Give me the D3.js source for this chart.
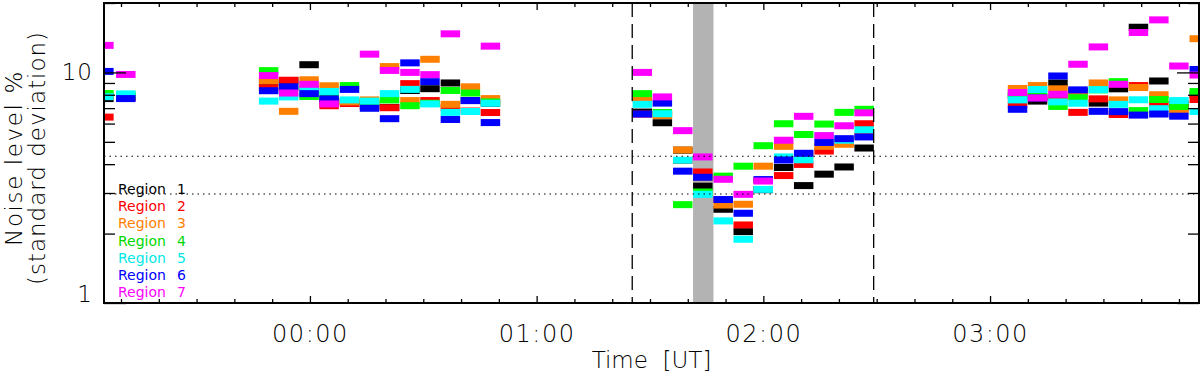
<!DOCTYPE html>
<html>
<head>
<meta charset="utf-8">
<script src="https://cdn.jsdelivr.net/npm/d3@7"></script>
<style>
  body { margin: 0; background: #fff; }
  svg { display: block; }
  text { font-family: "DejaVu Sans", sans-serif; font-weight: 200; }
</style>
</head>
<body>
<div id="chart"></div>
<script>
(function() {
    /********************************************
     * DATA (minutes from 00:00 UT, noise level %)
     ********************************************/
    const times = [-57.1, -51.3,
        -13.5, -8.2, -2.8, 2.5, 7.9, 13.2, 18.5, 23.9, 29.2, 34.6, 39.9, 45.2,
        85.4, 90.7, 96.1, 101.4, 106.8, 112.1, 117.4, 122.8, 128.1, 133.5, 138.8, 144.1,
        184.7, 190.0, 195.4, 200.7, 206.1, 211.4, 216.7, 222.1, 227.4, 232.8];

    const region1 = [7.7, 7.8,
        9.03, 9.2, 10.8, 7.6, 7.5, 7.3, 7.05, 8.35, 8.5, 9.0, 7.55, 7.35,
        6.73, 6.05, 4.6, 3.21, 2.55, 2.04, 3.1, 3.87, 3.23, 3.62, 3.89, 4.70,
        7.9, 7.51, 9.0, 8.3, 7.36, 8.49, 15.7, 9.18, 7.3, 8.0];
    const region2 = [6.4, 7.8,
        8.58, 9.25, 8.5, 7.17, 7.33, 7.1, 7.03, 8.94, 7.55, 7.03, 6.8, 6.70,
        6.6, 6.6, 4.15, 3.70, 2.8, 2.18, 3.4, 3.57, 3.99, 4.56, 5.0, 5.99,
        7.27, 7.8, 7.8, 6.71, 7.68, 6.57, 8.77, 7.25, 7.0, 7.63];
    const region3 = [7.9, 7.9,
        9.2, 6.78, 9.29, 8.75, 7.45, 7.6, 10.6, 7.55, 11.4, 7.27, 8.66, 7.7,
        7.63, 6.5, 4.61, 3.5, 2.66, 2.68, 3.92, 4.78, 4.4, 4.78, 4.88, 5.3,
        8.52, 8.77, 8.49, 8.0, 9.0, 7.6, 8.6, 8.0, 6.83, 14.0];
    const region4 = [8.1, 8.0,
        10.18, 8.6, 7.86, 8.0, 8.77, 7.4, 7.6, 7.17, 7.35, 8.35, 8.14, 7.45,
        8.09, 6.7, 2.67, 3.03, 3.55, 3.92, 4.81, 5.99, 5.38, 5.97, 6.71, 6.92,
        8.0, 8.2, 7.12, 7.77, 8.4, 9.12, 6.83, 7.63, 7.12, 8.26];
    const region5 = [7.85, 8.07,
        7.51, 7.83, 8.35, 8.27, 7.6, 7.51, 8.09, 8.44, 7.30, 6.71, 6.77, 7.35,
        7.27, 6.62, 4.16, 2.96, 2.27, 1.89, 3.11, 4.3, 4.18, 5.3, 5.08, 5.64,
        7.60, 8.43, 7.45, 7.35, 8.42, 7.27, 7.61, 6.96, 7.55, 6.77];
    const region6 = [10.1, 7.7,
        8.33, 8.66, 8.09, 7.68, 8.44, 6.99, 6.30, 11.0, 9.12, 6.25, 7.55, 6.06,
        6.60, 7.36, 3.73, 3.51, 2.81, 2.45, 3.43, 4.17, 4.46, 4.97, 5.16, 5.25,
        6.92, 7.75, 9.65, 8.4, 6.78, 6.76, 6.53, 6.60, 6.46, 10.3];
    const region7 = [13.1, 9.8,
        9.69, 8.14, 8.88, 7.30, null, 12.0, 10.2, 10.0, 9.78, 14.7, null, 13.0,
        10.0, 7.83, 5.59, 4.30, 3.44, 2.96, 3.38, 5.08, 6.45, 5.32, 5.87, 6.68,
        8.18, 7.75, 8.04, 10.85, 12.9, 8.88, 14.9, 16.9, 10.66, 9.74];

    const regionNames = ["Region 1", "Region 2", "Region 3", "Region 4", "Region 5", "Region 6", "Region 7"];
    const regionColors = ["#000000", "#ff0000", "#ff8000", "#00ff00", "#00ffff", "#0000ff", "#ff00ff"];
    const legendColors = ["#000000", "#ff0000", "#ff8000", "#00d800", "#00e8e8", "#0000ff", "#ff00ff"];
    const regionValues = [region1, region2, region3, region4, region5, region6, region7];

    const xMajorTicks = [0, 60, 120, 180];
    const xTickLabels = ["00:00", "01:00", "02:00", "03:00"];
    const yMajorTicks = [1, 10];
    const yMinorTicks = [2, 3, 4, 5, 6, 7, 8, 9, 20];

    const thresholds = [4.33, 2.97];     // dotted lines
    const eventLines = [85.3, 149.2];    // dashed lines
    const grayBand = [101.4, 106.8];
    const binMinutes = 5.15;

    /********************************************
     * SCALES
     ********************************************/
    const width = 1200, height = 377;
    const left = 104, right = 1199, top = 3, bottom = 303;

    const svg = d3.select("#chart").append("svg")
        .attr("width", width).attr("height", height);

    const x = d3.scaleLinear().domain([-54.5, 235.3]).range([left, right]);
    const y = d3.scaleLog().domain([1, 20]).range([bottom, top]);

    svg.append("clipPath").attr("id", "plot-clip")
        .append("rect").attr("x", left).attr("y", top)
        .attr("width", right - left).attr("height", bottom - top);

    const plot = svg.append("g").attr("clip-path", "url(#plot-clip)");

    // bande grise
    plot.append("rect")
        .attr("x", x(grayBand[0]))
        .attr("width", x(grayBand[1]) - x(grayBand[0]))
        .attr("y", top).attr("height", bottom - top)
        .attr("fill", "#b3b3b3");

    // barres par région
    regionValues.forEach((vals, r) => {
        const pts = vals.map((v, i) => ({ t: times[i], v: v })).filter(d => d.v != null);
        plot.append("g").selectAll("rect")
            .data(pts)
            .join("rect")
            .attr("x", d => x(d.t))
            .attr("width", d => x(d.t + binMinutes) - x(d.t))
            .attr("y", d => y(d.v) - 3.5)
            .attr("height", 7)
            .attr("fill", regionColors[r]);
    });

    // lignes pointillées
    plot.selectAll(".thr")
        .data(thresholds)
        .join("line")
        .attr("x1", left).attr("x2", right)
        .attr("y1", d => y(d)).attr("y2", d => y(d))
        .attr("stroke", "#000").attr("stroke-width", 1.1)
        .attr("stroke-dasharray", "1.5,4");

    // lignes tiretées
    plot.selectAll(".evt")
        .data(eventLines)
        .join("line")
        .attr("x1", d => x(d)).attr("x2", d => x(d))
        .attr("y1", top).attr("y2", bottom)
        .attr("stroke", "#000").attr("stroke-width", 1.3)
        .attr("stroke-dasharray", "14,7");

    /********************************************
     * AXES
     ********************************************/
    const xMinor = d3.range(-50, 236, 10).filter(t => xMajorTicks.indexOf(t) < 0);

    function styleAxis(g) {
        g.select(".domain").remove();
        g.selectAll("line").attr("stroke", "#000").attr("stroke-width", 1.3);
        g.selectAll("text").attr("font-family", null).attr("font-size", null).attr("fill", "#000");
    }

    svg.append("g").attr("transform", `translate(0,${bottom})`)
        .call(d3.axisBottom(x).tickValues(xMajorTicks).tickSize(-7).tickPadding(22)
            .tickFormat((d, i) => xTickLabels[i]))
        .call(styleAxis)
        .selectAll("text").style("font-size", "24px").style("letter-spacing", "1.5px");
    svg.append("g").attr("transform", `translate(0,${bottom})`)
        .call(d3.axisBottom(x).tickValues(xMinor).tickSize(-4).tickFormat(""))
        .call(styleAxis);
    svg.append("g").attr("transform", `translate(0,${top})`)
        .call(d3.axisTop(x).tickValues(xMajorTicks).tickSize(-7).tickFormat(""))
        .call(styleAxis);
    svg.append("g").attr("transform", `translate(0,${top})`)
        .call(d3.axisTop(x).tickValues(xMinor).tickSize(-4).tickFormat(""))
        .call(styleAxis);

    const yLeft = svg.append("g").attr("transform", `translate(${left},0)`)
        .call(d3.axisLeft(y).tickValues(yMajorTicks).tickSize(-22).tickPadding(11)
            .tickFormat(d3.format("d")))
        .call(styleAxis);
    yLeft.selectAll("text").style("font-size", "23px").style("letter-spacing", "1px")
        .attr("dy", d => d === 1 ? "-0.05em" : "0.32em");
    svg.append("g").attr("transform", `translate(${left},0)`)
        .call(d3.axisLeft(y).tickValues(yMinorTicks).tickSize(-11).tickFormat(""))
        .call(styleAxis);
    svg.append("g").attr("transform", `translate(${right},0)`)
        .call(d3.axisRight(y).tickValues(yMajorTicks).tickSize(-22).tickFormat(""))
        .call(styleAxis);
    svg.append("g").attr("transform", `translate(${right},0)`)
        .call(d3.axisRight(y).tickValues(yMinorTicks).tickSize(-11).tickFormat(""))
        .call(styleAxis);

    // cadre
    svg.append("rect")
        .attr("x", left).attr("y", top)
        .attr("width", right - left).attr("height", bottom - top)
        .attr("fill", "none").attr("stroke", "#000").attr("stroke-width", 2);

    /********************************************
     * TITRES & LÉGENDE
     ********************************************/
    svg.append("text")
        .attr("x", (left + right) / 2).attr("y", 368)
        .attr("text-anchor", "middle")
        .style("font-size", "23px")
        .style("white-space", "pre")
        .text("Time  [UT]");

    const yLabel = svg.append("g").attr("transform", "translate(0,158) rotate(-90)");
    yLabel.append("text").attr("x", 0).attr("y", 22)
        .attr("text-anchor", "middle").style("font-size", "23px").style("letter-spacing", "1.6px")
        .text("Noise level %");
    yLabel.append("text").attr("x", 0).attr("y", 45)
        .attr("text-anchor", "middle").style("font-size", "23px").style("letter-spacing", "1px")
        .text("(standard deviation)");

    const legend = svg.append("g");
    regionNames.forEach((name, i) => {
        const t = legend.append("text")
            .attr("x", 118).attr("y", 194 + i * 17.2)
            .style("font-size", "14px")
            .style("font-weight", 400)
            .style("fill", legendColors[i]);
        const parts = name.split(" ");
        t.append("tspan").text(parts[0]);
        t.append("tspan").attr("x", 177).text(parts[1]);
    });
})();
</script>
</body>
</html>
